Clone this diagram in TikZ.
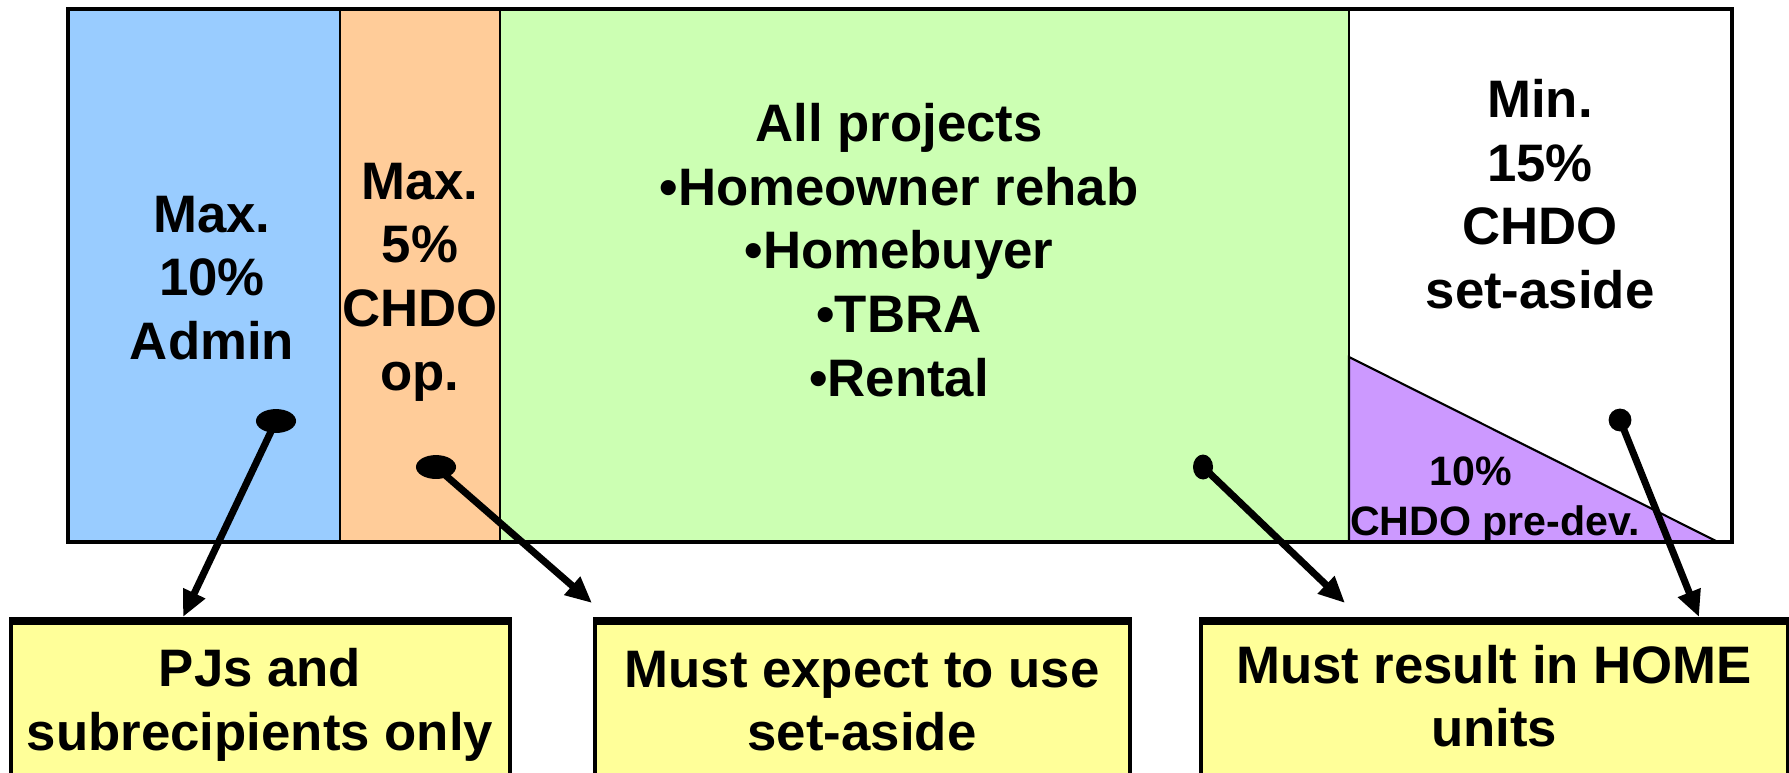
\documentclass[tikz,border=0pt]{standalone}
\usepackage{fontspec}
\setmainfont{Liberation Sans}
\usetikzlibrary{arrows.meta,shapes.geometric}

\definecolor{adminBlue}{HTML}{99CCFF}
\definecolor{opOrange}{HTML}{FFCC99}
\definecolor{projGreen}{HTML}{CCFFB3}
\definecolor{predevPurple}{HTML}{CC99FF}
\definecolor{noteYellow}{HTML}{FFFF99}

\tikzset{
    big text/.style={font=\bfseries\fontsize{15}{18.1}\selectfont, align=center, inner sep=0pt},
    small text/.style={font=\bfseries\fontsize{11.7}{14}\selectfont, inner sep=0pt},
    pin dot/.style={ellipse, fill=black, inner sep=0pt},
    pointer/.style={line width=2pt, -{Triangle[length=7.5pt,width=6.5pt]}},
    note box/.style={fill=noteYellow, draw=black, line width=1.2pt},
}

\begin{document}
\begin{tikzpicture}[x=0.01cm, y=-0.01cm]
    \useasboundingbox (0,0) rectangle (1789,772);
    \clip (0,0) rectangle (1789,772);

    \def\barTop{9}
    \def\barBottom{542}

    % bar sections
    \filldraw[fill=adminBlue, line width=0.6pt] (68,\barTop) rectangle (340,\barBottom);
    \filldraw[fill=opOrange, line width=0.6pt] (340,\barTop) rectangle (500,\barBottom);
    \filldraw[fill=projGreen, line width=0.6pt] (500,\barTop) rectangle (1349,\barBottom);
    \filldraw[fill=white, line width=0.6pt] (1349,\barTop) rectangle (1732,\barBottom);

    % pre-dev wedge
    \filldraw[fill=predevPurple, line width=0.6pt] (1349,357) -- (1349,\barBottom) -- (1718,\barBottom) -- cycle;

    \draw[line width=0.9pt] (68,\barTop) rectangle (1732,\barBottom);

    % section texts
    \node[big text] (admin) at (212,278) {Max.\\10\%\\Admin};
    \node[big text] (chdoOp) at (420,282) {Max.\\5\%\\CHDO\\op.};
    \node[big text] (projects) at (899,250) {All projects\\•Homeowner rehab\\•Homebuyer\\•TBRA\\•Rental};
    \node[big text] (setAside) at (1540,194) {Min.\\15\%\\CHDO\\set-aside};
    \node[small text, anchor=base] (predevPct) at (1471,485) {10\%};
    \node[small text, anchor=base] (predevName) at (1495,535) {CHDO pre-dev.};

    % note boxes
    \foreach \boxLeft/\boxRight in {11/510, 595/1130, 1201/1788}
    {
        \filldraw[note box] (\boxLeft,621) rectangle (\boxRight,800);
        \draw[line width=2.4pt] (\boxLeft-2,621) -- (\boxRight+2,621);
    }
    \node[big text] (pjsOnly) at (260,705) {PJs and\\subrecipients only};
    \node[big text] (useSetAside) at (862,701) {Must expect to use\\set-aside};
    \node[big text] (homeUnits) at (1494,696) {Must result in HOME\\units};

    % pointers
    \node[pin dot, minimum width=11.4pt, minimum height=6.8pt] (adminDot) at (276,421) {};
    \node[pin dot, minimum width=11.4pt, minimum height=6.8pt] (opDot) at (436,467) {};
    \node[pin dot, minimum width=5.7pt, minimum height=7.1pt] (projDot) at (1203,467) {};
    \node[pin dot, minimum width=6.5pt, minimum height=6.5pt] (asideDot) at (1620,420) {};

    \coordinate (adminEnd) at (183,617);
    \coordinate (opEnd) at (592,603);
    \coordinate (projEnd) at (1345,603);
    \coordinate (asideEnd) at (1699,617);

    \draw[pointer] (adminDot.center) -- (adminEnd);
    \draw[pointer] (opDot.center) -- (opEnd);
    \draw[pointer] (projDot.center) -- (projEnd);
    \draw[pointer] (asideDot.center) -- (asideEnd);

\end{tikzpicture}
\end{document}
